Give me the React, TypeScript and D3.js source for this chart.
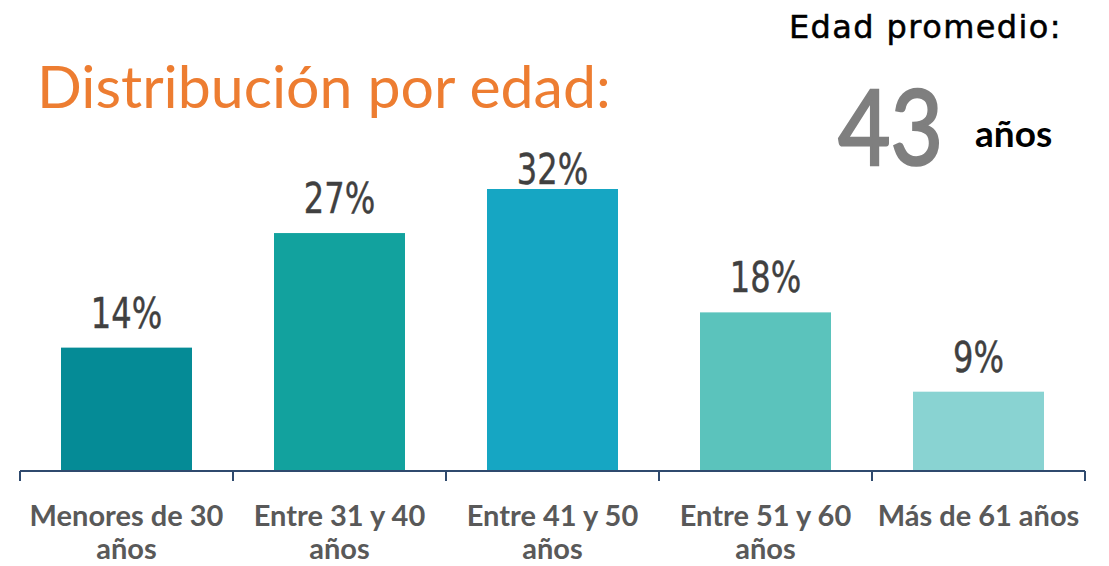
import { useEffect, useRef } from 'react';
import * as d3 from 'd3';

const categories = [
	'Menores de 30 años',
	'Entre 31 y 40 años',
	'Entre 41 y 50 años',
	'Entre 51 y 60 años',
	'Más de 61 años',
];
const values = [14, 27, 32, 18, 9];
const colors = ['#058b96', '#12a29e', '#16a6c3', '#5bc3bc', '#89d3d2'];
const title = 'Distribución por edad:';
const avgLabel = 'Edad promedio:';
const avgValue = 43;
const avgUnit = 'años';

const W = 1109;
const H = 566;

export default function App() {
	const svgRef = useRef<SVGSVGElement | null>(null);

	useEffect(() => {
		if (!svgRef.current) return;
		const svg = d3.select(svgRef.current);
		svg.selectAll('*').remove();

		const margin = { left: 20, right: 24, bottom: 471 };

		const x = d3
			.scaleBand<string>()
			.domain(categories)
			.range([margin.left, W - margin.right])
			.paddingInner(0.385)
			.paddingOuter(0.1925);

		const y = d3
			.scaleLinear()
			.domain([0, d3.max(values)!])
			.range([margin.bottom, 189]);

		const data = categories.map((c, i) => ({ c, v: values[i], color: colors[i] }));

		// bars
		svg
			.append('g')
			.selectAll('rect')
			.data(data)
			.join('rect')
			.attr('x', (d) => x(d.c)!)
			.attr('y', (d) => y(d.v))
			.attr('width', x.bandwidth())
			.attr('height', (d) => y(0) - y(d.v))
			.attr('fill', (d) => d.color);

		// value labels (kept below the top band of the slide)
		svg
			.append('g')
			.selectAll('text')
			.data(data)
			.join('text')
			.attr(
				'transform',
				(d) => `translate(${x(d.c)! + x.bandwidth() / 2},${Math.max(y(d.v) - 20, 184)}) scale(0.85,1)`
			)
			.attr('text-anchor', 'middle')
			.style('font-family', "'DejaVu Sans Condensed', 'DejaVu Sans', sans-serif")
			.style('font-size', '42px')
			.style('fill', '#404040')
			.style('stroke', '#404040')
			.style('stroke-width', '0.4px')
			.text((d) => `${d.v}%`);

		// axis line + ticks at band edges
		const axis = svg.append('g').attr('stroke', '#2f4a6e').attr('stroke-width', 2);
		axis
			.append('line')
			.attr('x1', margin.left)
			.attr('x2', W - margin.right)
			.attr('y1', y(0))
			.attr('y2', y(0));
		const step = x.step();
		axis
			.selectAll('line.tick')
			.data(d3.range(categories.length + 1))
			.join('line')
			.attr('class', 'tick')
			.attr('x1', (i) => margin.left + i * step)
			.attr('x2', (i) => margin.left + i * step)
			.attr('y1', y(0))
			.attr('y2', y(0) + 10);

		// category labels, wrapped to the band step
		const labels = svg
			.append('g')
			.selectAll('text')
			.data(data)
			.join('text')
			.attr('text-anchor', 'middle')
			.style('font-family', 'Lato, sans-serif')
			.style('font-weight', '700')
			.style('font-size', '29px')
			.style('fill', '#595959');

		labels.each(function (d) {
			const t = d3.select(this);
			const cx = x(d.c)! + x.bandwidth() / 2;
			const words = d.c.split(' ');
			let line: string[] = [];
			let lineNo = 0;
			let tspan = t.append('tspan').attr('x', cx).attr('y', 526);
			for (const w of words) {
				line.push(w);
				tspan.text(line.join(' '));
				if ((tspan.node() as SVGTSpanElement).getComputedTextLength() > step - 4 && line.length > 1) {
					line.pop();
					tspan.text(line.join(' '));
					line = [w];
					lineNo++;
					tspan = t
						.append('tspan')
						.attr('x', cx)
						.attr('y', 526 + lineNo * 33)
						.text(w);
				}
			}
		});

		// title
		svg
			.append('text')
			.attr('x', 37)
			.attr('y', 108)
			.style('font-family', 'Lato, sans-serif')
			.style('font-size', '59px')
			.style('fill', '#ed7d31')
			.text(title);

		// average age block
		svg
			.append('text')
			.attr('x', 1062)
			.attr('y', 38)
			.attr('text-anchor', 'end')
			.style('font-family', "'DejaVu Sans', sans-serif")
			.style('font-size', '32px')
			.style('letter-spacing', '1.4px')
			.style('fill', '#000')
			.style('stroke', '#000')
			.style('stroke-width', '0.5px')
			.text(avgLabel);

		svg
			.append('text')
			.attr('transform', 'translate(838,165) scale(0.87,1)')
			.style('font-family', 'Lato, sans-serif')
			.style('font-size', '104px')
			.style('fill', '#7f7f7f')
			.style('stroke', '#7f7f7f')
			.style('stroke-width', '2.5px')
			.text(String(avgValue));

		svg
			.append('text')
			.attr('x', 975)
			.attr('y', 147)
			.style('font-family', 'Lato, sans-serif')
			.style('font-weight', '700')
			.style('font-size', '37px')
			.style('fill', '#000')
			.text(avgUnit);
	}, []);

	return (
		<svg
			ref={svgRef}
			width={W}
			height={H}
			style={{ position: 'absolute', left: 0, top: 0, background: '#fff' }}
		/>
	);
}
